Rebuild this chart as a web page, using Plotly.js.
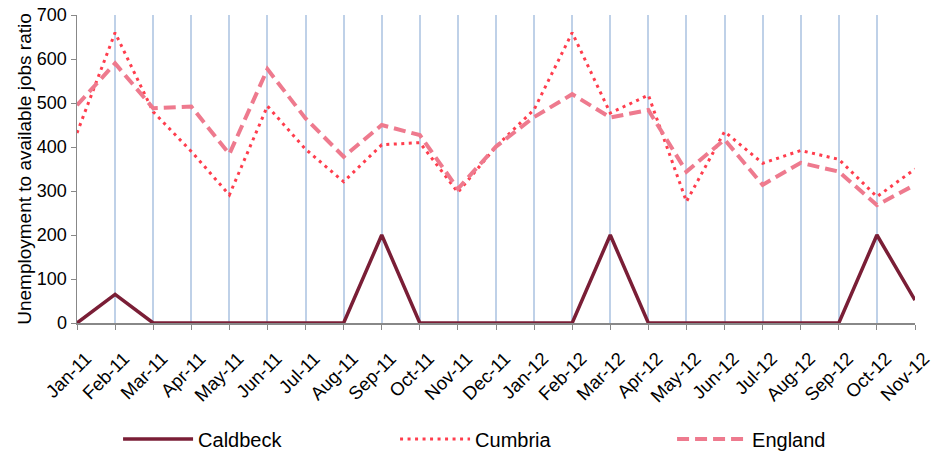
<!DOCTYPE html>
<html>
<head>
<meta charset="utf-8">
<script src="https://cdn.plot.ly/plotly-3.0.1.min.js"></script>
<style>
  html, body { margin: 0; padding: 0; background: #fff; }
  #chart { width: 932px; height: 452px; }
</style>
</head>
<body>
<div id="chart"></div>
<script>
const months = ["Jan-11","Feb-11","Mar-11","Apr-11","May-11","Jun-11","Jul-11","Aug-11","Sep-11","Oct-11","Nov-11","Dec-11",
                "Jan-12","Feb-12","Mar-12","Apr-12","May-12","Jun-12","Jul-12","Aug-12","Sep-12","Oct-12","Nov-12"];
const caldbeck = [0, 65, 0, 0, 0, 0, 0, 0, 200, 0, 0, 0, 0, 0, 200, 0, 0, 0, 0, 0, 0, 200, 52];
const cumbria  = [432, 660, 480, 390, 291, 493, 395, 321, 405, 410, 297, 401, 485, 660, 477, 518, 276, 435, 363, 392, 372, 287, 350];
const england  = [495, 590, 488, 492, 384, 577, 465, 378, 450, 427, 305, 401, 468, 520, 467, 484, 344, 417, 314, 364, 344, 268, 314];
const seriesNames = ["Caldbeck", "Cumbria", "England"];
const yTitle = "Unemployment to available jobs ratio";

const font = "Liberation Sans, Arial, sans-serif";

const traces = [
  { x: months, y: caldbeck, name: seriesNames[0], type: "scatter", mode: "lines", cliponaxis: false,
    line: { color: "#7A1E36", width: 3.5 } },
  { x: months, y: cumbria, name: seriesNames[1], type: "scatter", mode: "lines", cliponaxis: false,
    line: { color: "#FF3D4D", width: 3, dash: "3px,4.5px" } },
  { x: months, y: england, name: seriesNames[2], type: "scatter", mode: "lines", cliponaxis: false,
    line: { color: "#EE7A8E", width: 4, dash: "12px,6px" } }
];

const layout = {
  width: 932, height: 452,
  margin: { l: 77, r: 17, t: 15, b: 129, autoexpand: false },
  paper_bgcolor: "#fff", plot_bgcolor: "#fff",
  font: { family: font, color: "#000", size: 16 },
  showlegend: true,
  legend: {
    orientation: "h", x: 0.049, xanchor: "left", y: -0.377, yanchor: "middle",
    itemwidth: 70, entrywidth: 192, entrywidthmode: "pixels",
    font: { family: font, size: 20, color: "#000" },
    traceorder: "normal", bgcolor: "rgba(0,0,0,0)"
  },
  xaxis: {
    type: "category", range: [0, 22], automargin: false,
    showgrid: true, gridcolor: "#BFD1E8", gridwidth: 2,
    showline: true, linecolor: "#888", linewidth: 1.5,
    ticks: "outside", ticklen: 5, tickcolor: "#888", tickwidth: 1,
    tickangle: -45, ticklabelshift: 9, ticklabelstandoff: 11,
    tickfont: { family: font, size: 18.5, color: "#000" },
    zeroline: false, fixedrange: true
  },
  yaxis: {
    range: [0, 700], dtick: 100, tick0: 0, automargin: false,
    showgrid: false, zeroline: false,
    showline: true, linecolor: "#888", linewidth: 1.5,
    ticks: "outside", ticklen: 5, tickcolor: "#888", tickwidth: 1,
    tickfont: { family: font, size: 18, color: "#000" },
    title: { text: yTitle, font: { family: font, size: 19, color: "#000" }, standoff: 0 },
    fixedrange: true
  }
};

Plotly.newPlot("chart", traces, layout, { displayModeBar: false, staticPlot: true });
</script>
</body>
</html>
